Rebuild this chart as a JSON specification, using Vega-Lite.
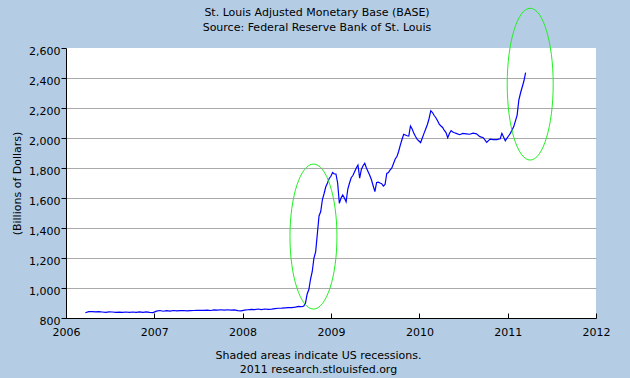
{
  "$schema": "https://vega.github.io/schema/vega-lite/v6.json",
  "width": 530,
  "height": 270,
  "autosize": "none",
  "padding": {"left": 66, "top": 48, "right": 34, "bottom": 60},
  "background": "#b4cde5",
  "config": {"view": {"fill": "white", "stroke": null}, "font": "DejaVu Sans"},
  "title": {
    "text": ["St. Louis Adjusted Monetary Base (BASE)", "Source: Federal Reserve Bank of St. Louis"],
    "fontSize": 11, "fontWeight": "normal", "font": "DejaVu Sans", "color": "#000000",
    "anchor": "middle", "dx": -14, "offset": -27, "lineHeight": 15
  },
  "encoding": {
    "x": {
      "field": "date", "type": "temporal",
      "scale": {"type": "utc", "domain": ["2006-01-01", "2012-01-01"]},
      "axis": {
        "title": ["Shaded areas indicate US recessions.", "2011 research.stlouisfed.org"],
        "format": "%Y",
        "tickCount": {"interval": "year", "step": 1},
        "grid": false,
        "domainColor": "#000000", "tickColor": "#000000",
        "tickSize": -5, "labelPadding": 13, "labelFlush": false, "labelOverlap": false,
        "labelFontSize": 11, "labelColor": "#000000", "labelFont": "DejaVu Sans",
        "titleFontSize": 11, "titleFontWeight": "normal", "titleColor": "#000000", "titleFont": "DejaVu Sans",
        "titleX": 252, "titleY": 31, "titleBaseline": "top", "titleAlign": "center", "titleLineHeight": 14
      }
    },
    "y": {
      "field": "value", "type": "quantitative",
      "scale": {"domain": [800, 2600], "nice": false, "zero": false},
      "axis": {
        "title": "(Billions of Dollars)",
        "values": [800, 1000, 1200, 1400, 1600, 1800, 2000, 2200, 2400, 2600],
        "format": ",.0f",
        "tickSize": 5, "labelPadding": 1, "labelOffset": 3,
        "domainColor": "#000000", "tickColor": "#000000",
        "gridColor": "#aaaaaa",
        "gridOpacity": {"condition": {"test": "datum.value >= 2600", "value": 0}, "value": 1},
        "labelFontSize": 11, "labelColor": "#000000", "labelFont": "DejaVu Sans",
        "titleFontSize": 11, "titleFontWeight": "normal", "titleColor": "#000000", "titleFont": "DejaVu Sans",
        "titleX": -49, "titleY": 135, "titleAngle": -90, "titleAlign": "center", "titleBaseline": "middle"
      }
    }
  },
  "layer": [
    {
      "data": {"values": [{"date": "2007-12-01", "end": "2009-06-01"}]},
      "mark": {"type": "rect", "color": "#bebebe"},
      "encoding": {"x2": {"field": "end"}, "y": {"datum": 800}, "y2": {"datum": 2600}}
    },
    {
      "data": {"values": [
        {"date": "2006-03-22", "value": 835},
        {"date": "2006-04-05", "value": 842},
        {"date": "2006-04-19", "value": 842},
        {"date": "2006-05-03", "value": 841},
        {"date": "2006-05-17", "value": 842},
        {"date": "2006-05-31", "value": 840},
        {"date": "2006-06-14", "value": 838},
        {"date": "2006-06-28", "value": 841},
        {"date": "2006-07-12", "value": 840},
        {"date": "2006-07-26", "value": 837},
        {"date": "2006-08-09", "value": 839},
        {"date": "2006-08-23", "value": 837},
        {"date": "2006-09-06", "value": 840},
        {"date": "2006-09-20", "value": 837},
        {"date": "2006-10-04", "value": 840},
        {"date": "2006-10-18", "value": 838},
        {"date": "2006-11-01", "value": 841},
        {"date": "2006-11-15", "value": 838},
        {"date": "2006-11-29", "value": 841},
        {"date": "2006-12-13", "value": 838},
        {"date": "2006-12-27", "value": 836},
        {"date": "2007-01-10", "value": 846},
        {"date": "2007-01-24", "value": 850},
        {"date": "2007-02-07", "value": 845},
        {"date": "2007-02-21", "value": 849},
        {"date": "2007-03-07", "value": 846},
        {"date": "2007-03-21", "value": 850},
        {"date": "2007-04-04", "value": 848},
        {"date": "2007-04-18", "value": 849},
        {"date": "2007-05-02", "value": 850},
        {"date": "2007-05-16", "value": 847},
        {"date": "2007-05-30", "value": 849},
        {"date": "2007-06-13", "value": 850},
        {"date": "2007-06-27", "value": 851},
        {"date": "2007-07-11", "value": 851},
        {"date": "2007-07-25", "value": 851},
        {"date": "2007-08-08", "value": 852},
        {"date": "2007-08-22", "value": 850},
        {"date": "2007-09-05", "value": 854},
        {"date": "2007-09-19", "value": 853},
        {"date": "2007-10-03", "value": 855},
        {"date": "2007-10-17", "value": 852},
        {"date": "2007-10-31", "value": 855},
        {"date": "2007-11-14", "value": 853},
        {"date": "2007-11-28", "value": 854},
        {"date": "2007-12-12", "value": 849},
        {"date": "2007-12-26", "value": 848},
        {"date": "2008-01-09", "value": 852},
        {"date": "2008-01-23", "value": 855},
        {"date": "2008-02-06", "value": 857},
        {"date": "2008-02-20", "value": 856},
        {"date": "2008-03-05", "value": 860},
        {"date": "2008-03-19", "value": 856},
        {"date": "2008-04-02", "value": 860},
        {"date": "2008-04-16", "value": 858},
        {"date": "2008-04-30", "value": 859},
        {"date": "2008-05-14", "value": 862},
        {"date": "2008-05-28", "value": 865},
        {"date": "2008-06-11", "value": 866},
        {"date": "2008-06-25", "value": 868},
        {"date": "2008-07-09", "value": 869},
        {"date": "2008-07-23", "value": 869},
        {"date": "2008-08-06", "value": 872},
        {"date": "2008-08-20", "value": 878},
        {"date": "2008-09-03", "value": 875},
        {"date": "2008-09-10", "value": 880},
        {"date": "2008-09-17", "value": 900},
        {"date": "2008-09-24", "value": 960},
        {"date": "2008-10-01", "value": 990},
        {"date": "2008-10-08", "value": 1060},
        {"date": "2008-10-15", "value": 1110},
        {"date": "2008-10-22", "value": 1200},
        {"date": "2008-10-29", "value": 1240},
        {"date": "2008-11-05", "value": 1360},
        {"date": "2008-11-12", "value": 1480},
        {"date": "2008-11-19", "value": 1510},
        {"date": "2008-11-26", "value": 1590},
        {"date": "2008-12-03", "value": 1630},
        {"date": "2008-12-10", "value": 1675},
        {"date": "2008-12-17", "value": 1700},
        {"date": "2008-12-24", "value": 1730},
        {"date": "2008-12-31", "value": 1745},
        {"date": "2009-01-07", "value": 1770},
        {"date": "2009-01-14", "value": 1760},
        {"date": "2009-01-21", "value": 1760},
        {"date": "2009-01-28", "value": 1700},
        {"date": "2009-02-04", "value": 1565},
        {"date": "2009-02-11", "value": 1600},
        {"date": "2009-02-18", "value": 1620},
        {"date": "2009-02-25", "value": 1600},
        {"date": "2009-03-04", "value": 1575},
        {"date": "2009-03-11", "value": 1660},
        {"date": "2009-03-18", "value": 1700},
        {"date": "2009-03-25", "value": 1735},
        {"date": "2009-04-01", "value": 1750},
        {"date": "2009-04-08", "value": 1775},
        {"date": "2009-04-15", "value": 1800},
        {"date": "2009-04-22", "value": 1820},
        {"date": "2009-04-29", "value": 1733},
        {"date": "2009-05-06", "value": 1790},
        {"date": "2009-05-13", "value": 1815},
        {"date": "2009-05-20", "value": 1831},
        {"date": "2009-05-27", "value": 1800},
        {"date": "2009-06-03", "value": 1775},
        {"date": "2009-06-10", "value": 1750},
        {"date": "2009-06-17", "value": 1720},
        {"date": "2009-06-24", "value": 1680},
        {"date": "2009-07-01", "value": 1642},
        {"date": "2009-07-08", "value": 1704},
        {"date": "2009-07-15", "value": 1706},
        {"date": "2009-07-22", "value": 1700},
        {"date": "2009-07-29", "value": 1695},
        {"date": "2009-08-05", "value": 1680},
        {"date": "2009-08-12", "value": 1690},
        {"date": "2009-08-19", "value": 1764},
        {"date": "2009-08-26", "value": 1770},
        {"date": "2009-09-02", "value": 1787},
        {"date": "2009-09-09", "value": 1800},
        {"date": "2009-09-16", "value": 1830},
        {"date": "2009-09-23", "value": 1860},
        {"date": "2009-09-30", "value": 1876},
        {"date": "2009-10-07", "value": 1910},
        {"date": "2009-10-14", "value": 1953},
        {"date": "2009-10-21", "value": 1990},
        {"date": "2009-10-28", "value": 2025},
        {"date": "2009-11-04", "value": 2020},
        {"date": "2009-11-11", "value": 2015},
        {"date": "2009-11-18", "value": 2013},
        {"date": "2009-11-25", "value": 2080},
        {"date": "2009-12-02", "value": 2060},
        {"date": "2009-12-09", "value": 2031},
        {"date": "2009-12-16", "value": 2010},
        {"date": "2009-12-23", "value": 1991},
        {"date": "2009-12-30", "value": 1980},
        {"date": "2010-01-06", "value": 1969},
        {"date": "2010-01-13", "value": 2000},
        {"date": "2010-01-20", "value": 2031},
        {"date": "2010-01-27", "value": 2060},
        {"date": "2010-02-03", "value": 2090},
        {"date": "2010-02-10", "value": 2130},
        {"date": "2010-02-17", "value": 2182},
        {"date": "2010-02-24", "value": 2170},
        {"date": "2010-03-03", "value": 2150},
        {"date": "2010-03-10", "value": 2135},
        {"date": "2010-03-17", "value": 2115},
        {"date": "2010-03-24", "value": 2093},
        {"date": "2010-03-31", "value": 2080},
        {"date": "2010-04-07", "value": 2070},
        {"date": "2010-04-14", "value": 2050},
        {"date": "2010-04-21", "value": 2036},
        {"date": "2010-04-28", "value": 2002},
        {"date": "2010-05-05", "value": 2030},
        {"date": "2010-05-12", "value": 2049},
        {"date": "2010-05-19", "value": 2040},
        {"date": "2010-05-26", "value": 2035},
        {"date": "2010-06-02", "value": 2031},
        {"date": "2010-06-16", "value": 2022},
        {"date": "2010-06-30", "value": 2031},
        {"date": "2010-07-14", "value": 2028},
        {"date": "2010-07-28", "value": 2025},
        {"date": "2010-08-11", "value": 2032},
        {"date": "2010-08-25", "value": 2028},
        {"date": "2010-09-08", "value": 2009},
        {"date": "2010-09-22", "value": 2002},
        {"date": "2010-10-06", "value": 1971},
        {"date": "2010-10-20", "value": 1993},
        {"date": "2010-11-03", "value": 1989},
        {"date": "2010-11-17", "value": 1989},
        {"date": "2010-12-01", "value": 1995},
        {"date": "2010-12-08", "value": 2031},
        {"date": "2010-12-22", "value": 1982},
        {"date": "2011-01-05", "value": 2015},
        {"date": "2011-01-12", "value": 2031},
        {"date": "2011-01-26", "value": 2076},
        {"date": "2011-02-09", "value": 2153},
        {"date": "2011-02-16", "value": 2253},
        {"date": "2011-02-23", "value": 2300},
        {"date": "2011-03-02", "value": 2340},
        {"date": "2011-03-09", "value": 2380},
        {"date": "2011-03-16", "value": 2436}
      ]},
      "mark": {"type": "line", "color": "#0000ff", "strokeWidth": 1.2}
    },
    {
      "data": {"values": [{"date": "2008-10-20", "value": 1343}]},
      "mark": {"type": "point", "filled": false, "stroke": "#22ee22", "strokeWidth": 1, "opacity": 1,
               "shape": "M -0.324 0 A 0.324 1 0 1 1 0.324 0 A 0.324 1 0 1 1 -0.324 0 Z", "size": 21025}
    },
    {
      "data": {"values": [{"date": "2011-04-04", "value": 2359}]},
      "mark": {"type": "point", "filled": false, "stroke": "#22ee22", "strokeWidth": 1, "opacity": 1,
               "shape": "M -0.303 0 A 0.303 1 0 1 1 0.303 0 A 0.303 1 0 1 1 -0.303 0 Z", "size": 23043}
    }
  ]
}
